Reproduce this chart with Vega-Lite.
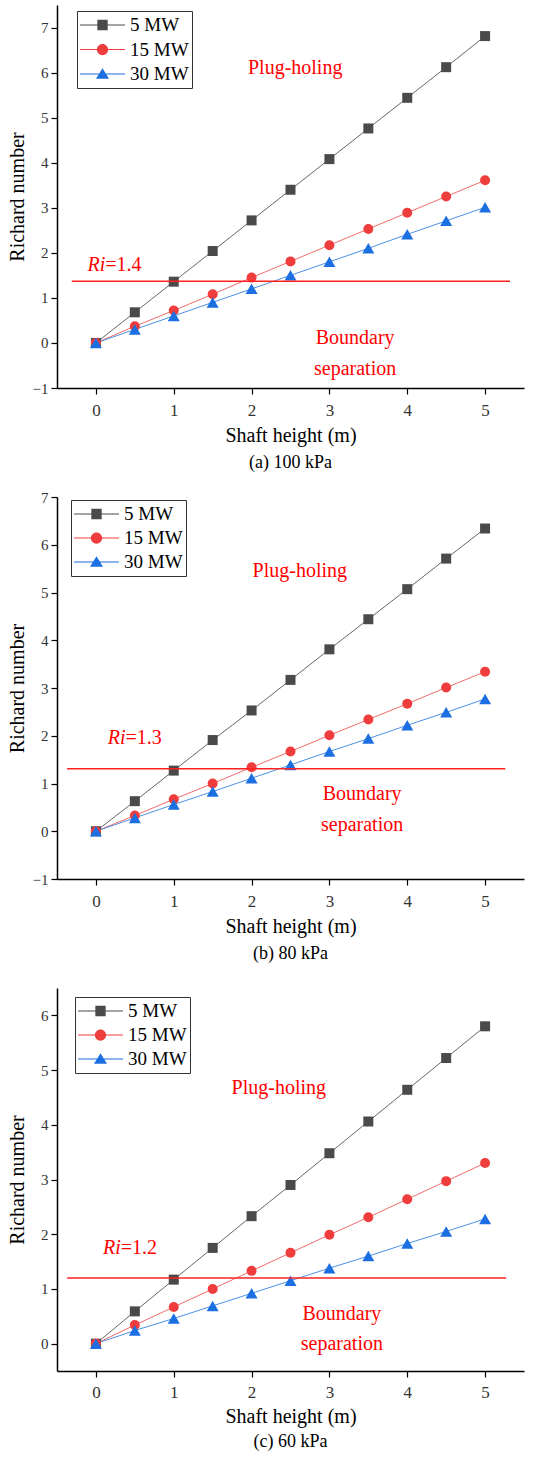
{
  "$schema": "https://vega.github.io/schema/vega-lite/v6.json",
  "padding": {"left": 7, "top": 5, "right": 2, "bottom": 0},
  "config": {
    "view": {"stroke": null},
    "font": "Liberation Serif",
    "text": {"font": "Liberation Serif"},
    "axis": {"grid": false, "labelFont": "Liberation Serif", "titleFont": "Liberation Serif"},
    "legend": {"labelFont": "Liberation Serif"}
  },
  "datasets": {
    "ri": [
      {"p": "a", "s": "5 MW", "h": 0, "ri": 0}, {"p": "a", "s": "5 MW", "h": 0.5, "ri": 0.68}, {"p": "a", "s": "5 MW", "h": 1, "ri": 1.36}, {"p": "a", "s": "5 MW", "h": 1.5, "ri": 2.04}, {"p": "a", "s": "5 MW", "h": 2, "ri": 2.72}, {"p": "a", "s": "5 MW", "h": 2.5, "ri": 3.4}, {"p": "a", "s": "5 MW", "h": 3, "ri": 4.08}, {"p": "a", "s": "5 MW", "h": 3.5, "ri": 4.76}, {"p": "a", "s": "5 MW", "h": 4, "ri": 5.44}, {"p": "a", "s": "5 MW", "h": 4.5, "ri": 6.12}, {"p": "a", "s": "5 MW", "h": 5, "ri": 6.81},
      {"p": "a", "s": "15 MW", "h": 0, "ri": 0}, {"p": "a", "s": "15 MW", "h": 0.5, "ri": 0.37}, {"p": "a", "s": "15 MW", "h": 1, "ri": 0.72}, {"p": "a", "s": "15 MW", "h": 1.5, "ri": 1.08}, {"p": "a", "s": "15 MW", "h": 2, "ri": 1.45}, {"p": "a", "s": "15 MW", "h": 2.5, "ri": 1.81}, {"p": "a", "s": "15 MW", "h": 3, "ri": 2.17}, {"p": "a", "s": "15 MW", "h": 3.5, "ri": 2.53}, {"p": "a", "s": "15 MW", "h": 4, "ri": 2.89}, {"p": "a", "s": "15 MW", "h": 4.5, "ri": 3.25}, {"p": "a", "s": "15 MW", "h": 5, "ri": 3.61},
      {"p": "a", "s": "30 MW", "h": 0, "ri": 0}, {"p": "a", "s": "30 MW", "h": 0.5, "ri": 0.3}, {"p": "a", "s": "30 MW", "h": 1, "ri": 0.6}, {"p": "a", "s": "30 MW", "h": 1.5, "ri": 0.9}, {"p": "a", "s": "30 MW", "h": 2, "ri": 1.2}, {"p": "a", "s": "30 MW", "h": 2.5, "ri": 1.5}, {"p": "a", "s": "30 MW", "h": 3, "ri": 1.8}, {"p": "a", "s": "30 MW", "h": 3.5, "ri": 2.1}, {"p": "a", "s": "30 MW", "h": 4, "ri": 2.41}, {"p": "a", "s": "30 MW", "h": 4.5, "ri": 2.71}, {"p": "a", "s": "30 MW", "h": 5, "ri": 3.01},
      {"p": "b", "s": "5 MW", "h": 0, "ri": 0}, {"p": "b", "s": "5 MW", "h": 0.5, "ri": 0.63}, {"p": "b", "s": "5 MW", "h": 1, "ri": 1.27}, {"p": "b", "s": "5 MW", "h": 1.5, "ri": 1.91}, {"p": "b", "s": "5 MW", "h": 2, "ri": 2.53}, {"p": "b", "s": "5 MW", "h": 2.5, "ri": 3.17}, {"p": "b", "s": "5 MW", "h": 3, "ri": 3.81}, {"p": "b", "s": "5 MW", "h": 3.5, "ri": 4.44}, {"p": "b", "s": "5 MW", "h": 4, "ri": 5.07}, {"p": "b", "s": "5 MW", "h": 4.5, "ri": 5.71}, {"p": "b", "s": "5 MW", "h": 5, "ri": 6.34},
      {"p": "b", "s": "15 MW", "h": 0, "ri": 0}, {"p": "b", "s": "15 MW", "h": 0.5, "ri": 0.33}, {"p": "b", "s": "15 MW", "h": 1, "ri": 0.67}, {"p": "b", "s": "15 MW", "h": 1.5, "ri": 1.0}, {"p": "b", "s": "15 MW", "h": 2, "ri": 1.34}, {"p": "b", "s": "15 MW", "h": 2.5, "ri": 1.67}, {"p": "b", "s": "15 MW", "h": 3, "ri": 2.01}, {"p": "b", "s": "15 MW", "h": 3.5, "ri": 2.34}, {"p": "b", "s": "15 MW", "h": 4, "ri": 2.67}, {"p": "b", "s": "15 MW", "h": 4.5, "ri": 3.01}, {"p": "b", "s": "15 MW", "h": 5, "ri": 3.34},
      {"p": "b", "s": "30 MW", "h": 0, "ri": 0}, {"p": "b", "s": "30 MW", "h": 0.5, "ri": 0.28}, {"p": "b", "s": "30 MW", "h": 1, "ri": 0.56}, {"p": "b", "s": "30 MW", "h": 1.5, "ri": 0.83}, {"p": "b", "s": "30 MW", "h": 2, "ri": 1.11}, {"p": "b", "s": "30 MW", "h": 2.5, "ri": 1.39}, {"p": "b", "s": "30 MW", "h": 3, "ri": 1.67}, {"p": "b", "s": "30 MW", "h": 3.5, "ri": 1.94}, {"p": "b", "s": "30 MW", "h": 4, "ri": 2.22}, {"p": "b", "s": "30 MW", "h": 4.5, "ri": 2.49}, {"p": "b", "s": "30 MW", "h": 5, "ri": 2.77},
      {"p": "c", "s": "5 MW", "h": 0, "ri": 0}, {"p": "c", "s": "5 MW", "h": 0.5, "ri": 0.59}, {"p": "c", "s": "5 MW", "h": 1, "ri": 1.17}, {"p": "c", "s": "5 MW", "h": 1.5, "ri": 1.75}, {"p": "c", "s": "5 MW", "h": 2, "ri": 2.33}, {"p": "c", "s": "5 MW", "h": 2.5, "ri": 2.9}, {"p": "c", "s": "5 MW", "h": 3, "ri": 3.48}, {"p": "c", "s": "5 MW", "h": 3.5, "ri": 4.06}, {"p": "c", "s": "5 MW", "h": 4, "ri": 4.64}, {"p": "c", "s": "5 MW", "h": 4.5, "ri": 5.22}, {"p": "c", "s": "5 MW", "h": 5, "ri": 5.8},
      {"p": "c", "s": "15 MW", "h": 0, "ri": 0}, {"p": "c", "s": "15 MW", "h": 0.5, "ri": 0.34}, {"p": "c", "s": "15 MW", "h": 1, "ri": 0.67}, {"p": "c", "s": "15 MW", "h": 1.5, "ri": 1.0}, {"p": "c", "s": "15 MW", "h": 2, "ri": 1.33}, {"p": "c", "s": "15 MW", "h": 2.5, "ri": 1.66}, {"p": "c", "s": "15 MW", "h": 3, "ri": 1.99}, {"p": "c", "s": "15 MW", "h": 3.5, "ri": 2.31}, {"p": "c", "s": "15 MW", "h": 4, "ri": 2.64}, {"p": "c", "s": "15 MW", "h": 4.5, "ri": 2.97}, {"p": "c", "s": "15 MW", "h": 5, "ri": 3.3},
      {"p": "c", "s": "30 MW", "h": 0, "ri": 0}, {"p": "c", "s": "30 MW", "h": 0.5, "ri": 0.24}, {"p": "c", "s": "30 MW", "h": 1, "ri": 0.46}, {"p": "c", "s": "30 MW", "h": 1.5, "ri": 0.69}, {"p": "c", "s": "30 MW", "h": 2, "ri": 0.92}, {"p": "c", "s": "30 MW", "h": 2.5, "ri": 1.15}, {"p": "c", "s": "30 MW", "h": 3, "ri": 1.38}, {"p": "c", "s": "30 MW", "h": 3.5, "ri": 1.6}, {"p": "c", "s": "30 MW", "h": 4, "ri": 1.83}, {"p": "c", "s": "30 MW", "h": 4.5, "ri": 2.05}, {"p": "c", "s": "30 MW", "h": 5, "ri": 2.28}
    ]
  },
  "bounds": "flush",
  "spacing": 109,
  "vconcat": [
    {
      "width": 467, "height": 383,
      "title": {"text": "(a) 100 kPa", "orient": "bottom", "fontSize": 18, "fontWeight": "normal", "font": "Liberation Serif", "color": "black", "offset": 9},
      "data": {"name": "ri"},
      "encoding": {
        "x": {"field": "h", "type": "quantitative", "scale": {"domain": [-0.5, 5.5], "nice": false, "zero": false},
          "axis": {"title": "Shaft height (m)", "values": [0, 0.5, 1, 1.5, 2, 2.5, 3, 3.5, 4, 4.5, 5, 5.5], "format": "d", "labelExpr": "datum.value % 1 === 0 ? datum.label : ''", "labelOverlap": false, "tickSize": {"condition": {"test": "datum.value % 1 === 0", "value": 6}, "value": 3}, "domainColor": "black", "domainWidth": 1.5, "tickColor": "black", "tickWidth": 1.2, "labelFont": "Liberation Serif", "labelFontSize": 17, "labelColor": "#333", "labelPadding": 8, "titleFont": "Liberation Serif", "titleFontSize": 20, "titleFontWeight": "normal", "titleColor": "black", "titlePadding": 7, "labelFlush": false}},
        "y": {"field": "ri", "type": "quantitative", "scale": {"domain": [-1, 7.5], "nice": false, "zero": false},
          "axis": {"title": "Richard number", "values": [-1, -0.5, 0, 0.5, 1, 1.5, 2, 2.5, 3, 3.5, 4, 4.5, 5, 5.5, 6, 6.5, 7, 7.5], "format": "d", "labelExpr": "datum.value % 1 === 0 ? datum.label : ''", "labelOverlap": false, "tickSize": {"condition": {"test": "datum.value % 1 === 0", "value": 6}, "value": 3}, "domainColor": "black", "domainWidth": 1.5, "tickColor": "black", "tickWidth": 1.2, "labelFont": "Liberation Serif", "labelFontSize": 15, "labelColor": "#333", "labelPadding": 3, "titleFont": "Liberation Serif", "titleFontSize": 20, "titleFontWeight": "normal", "titleColor": "black", "titlePadding": 2, "minExtent": 28, "maxExtent": 28, "labelFlush": false}}
      },
      "layer": [
        {"transform": [{"filter": "datum.p === 'a'"}],
         "mark": {"type": "line", "strokeWidth": 1},
         "encoding": {"color": {"field": "s", "type": "nominal", "scale": {"domain": ["5 MW", "15 MW", "30 MW"], "range": ["#666666", "#f26b6b", "#4d92e6"]}, "legend": null}}},
        {"transform": [{"filter": "datum.p === 'a'"}],
         "mark": {"type": "point", "filled": true, "opacity": 1, "size": 100},
         "encoding": {"color": {"field": "s", "type": "nominal", "scale": {"domain": ["5 MW", "15 MW", "30 MW"], "range": ["#4a4a4a", "#ef3d3d", "#1c6fe0"]}, "legend": null},
           "shape": {"field": "s", "type": "nominal", "scale": {"domain": ["5 MW", "15 MW", "30 MW"], "range": ["square", "circle", "M0,-1.05L1.2,1.05L-1.2,1.05Z"]}, "legend": null}}},
        {"transform": [{"filter": "datum.p === 'a'"}],
         "mark": {"type": "point", "filled": true, "opacity": 0, "size": 2025},
         "encoding": {"color": {"field": "s", "type": "nominal", "scale": {"domain": ["5 MW", "15 MW", "30 MW"], "range": ["#4a4a4a", "#ef3d3d", "#1c6fe0"]},
             "legend": {"title": null, "orient": "none", "legendX": 20, "legendY": 6, "fillColor": "white", "strokeColor": "#333", "padding": 3, "labelFontSize": 19, "labelColor": "black", "symbolSize": 2025, "symbolOpacity": 1, "symbolStrokeWidth": 0, "labelOffset": 5, "clipHeight": 22, "rowPadding": 2.5}},
           "shape": {"field": "s", "type": "nominal", "scale": {"domain": ["5 MW", "15 MW", "30 MW"], "range": ["M-1,-0.025H1V0.025H-1Z M-0.23,-0.23H0.23V0.23H-0.23Z", "M-1,-0.025H1V0.025H-1Z M-0.25,0A0.25,0.25 0 1,1 0.25,0A0.25,0.25 0 1,1 -0.25,0Z", "M-1,-0.025H1V0.025H-1Z M0,-0.26L0.29,0.21L-0.29,0.21Z"]},
             "legend": {"title": null, "orient": "none", "legendX": 20, "legendY": 6, "fillColor": "white", "strokeColor": "#333", "padding": 3, "labelFontSize": 19, "labelColor": "black", "symbolSize": 2025, "symbolOpacity": 1, "symbolStrokeWidth": 0, "labelOffset": 5, "clipHeight": 22, "rowPadding": 2.5}}}},
        {"transform": [{"filter": "datum.p === 'a' && datum.s === '5 MW' && datum.h === 0"}],
         "mark": {"type": "rule", "color": "#ff2020", "strokeWidth": 1.5},
         "encoding": {"x": {"datum": -0.31, "type": "quantitative"}, "x2": {"datum": 5.32}, "y": {"datum": 1.37, "type": "quantitative"}}},
        {"transform": [{"filter": "datum.p === 'a' && datum.s === '5 MW' && datum.h === 0"}],
         "mark": {"type": "text", "text": "Ri", "font": "Liberation Serif", "fontStyle": "italic", "align": "right", "baseline": "middle", "fontSize": 20, "fill": "#ff0000"},
         "encoding": {"x": {"datum": 0.12, "type": "quantitative"}, "y": {"datum": 1.72, "type": "quantitative"}}},
        {"transform": [{"filter": "datum.p === 'a' && datum.s === '5 MW' && datum.h === 0"}],
         "mark": {"type": "text", "text": "=1.4", "font": "Liberation Serif", "align": "left", "baseline": "middle", "fontSize": 20, "fill": "#ff0000"},
         "encoding": {"x": {"datum": 0.12, "type": "quantitative"}, "y": {"datum": 1.72, "type": "quantitative"}}},
        {"transform": [{"filter": "datum.p === 'a' && datum.s === '5 MW' && datum.h === 0"}],
         "mark": {"type": "text", "text": "Plug-holing", "font": "Liberation Serif", "baseline": "middle", "fontSize": 20, "fill": "#ff0000"},
         "encoding": {"x": {"datum": 2.56, "type": "quantitative"}, "y": {"datum": 6.11, "type": "quantitative"}}},
        {"transform": [{"filter": "datum.p === 'a' && datum.s === '5 MW' && datum.h === 0"}],
         "mark": {"type": "text", "text": "Boundary", "font": "Liberation Serif", "baseline": "middle", "fontSize": 20, "fill": "#ff0000"},
         "encoding": {"x": {"datum": 3.33, "type": "quantitative"}, "y": {"datum": 0.12, "type": "quantitative"}}},
        {"transform": [{"filter": "datum.p === 'a' && datum.s === '5 MW' && datum.h === 0"}],
         "mark": {"type": "text", "text": "separation", "font": "Liberation Serif", "baseline": "middle", "fontSize": 20, "fill": "#ff0000"},
         "encoding": {"x": {"datum": 3.33, "type": "quantitative"}, "y": {"datum": -0.57, "type": "quantitative"}}}
      ],
      "resolve": {"scale": {"color": "independent", "shape": "independent"}}
    },
    {
      "width": 467, "height": 382,
      "title": {"text": "(b) 80 kPa", "orient": "bottom", "fontSize": 18, "fontWeight": "normal", "font": "Liberation Serif", "color": "black", "offset": 9},
      "data": {"name": "ri"},
      "encoding": {
        "x": {"field": "h", "type": "quantitative", "scale": {"domain": [-0.5, 5.5], "nice": false, "zero": false},
          "axis": {"title": "Shaft height (m)", "values": [0, 0.5, 1, 1.5, 2, 2.5, 3, 3.5, 4, 4.5, 5, 5.5], "format": "d", "labelExpr": "datum.value % 1 === 0 ? datum.label : ''", "labelOverlap": false, "tickSize": {"condition": {"test": "datum.value % 1 === 0", "value": 6}, "value": 3}, "domainColor": "black", "domainWidth": 1.5, "tickColor": "black", "tickWidth": 1.2, "labelFont": "Liberation Serif", "labelFontSize": 17, "labelColor": "#333", "labelPadding": 8, "titleFont": "Liberation Serif", "titleFontSize": 20, "titleFontWeight": "normal", "titleColor": "black", "titlePadding": 7, "labelFlush": false}},
        "y": {"field": "ri", "type": "quantitative", "scale": {"domain": [-1, 7], "nice": false, "zero": false},
          "axis": {"title": "Richard number", "values": [-1, -0.5, 0, 0.5, 1, 1.5, 2, 2.5, 3, 3.5, 4, 4.5, 5, 5.5, 6, 6.5, 7], "format": "d", "labelExpr": "datum.value % 1 === 0 ? datum.label : ''", "labelOverlap": false, "tickSize": {"condition": {"test": "datum.value % 1 === 0", "value": 6}, "value": 3}, "domainColor": "black", "domainWidth": 1.5, "tickColor": "black", "tickWidth": 1.2, "labelFont": "Liberation Serif", "labelFontSize": 15, "labelColor": "#333", "labelPadding": 3, "titleFont": "Liberation Serif", "titleFontSize": 20, "titleFontWeight": "normal", "titleColor": "black", "titlePadding": 2, "minExtent": 28, "maxExtent": 28, "labelFlush": false}}
      },
      "layer": [
        {"transform": [{"filter": "datum.p === 'b'"}],
         "mark": {"type": "line", "strokeWidth": 1},
         "encoding": {"color": {"field": "s", "type": "nominal", "scale": {"domain": ["5 MW", "15 MW", "30 MW"], "range": ["#666666", "#f26b6b", "#4d92e6"]}, "legend": null}}},
        {"transform": [{"filter": "datum.p === 'b'"}],
         "mark": {"type": "point", "filled": true, "opacity": 1, "size": 100},
         "encoding": {"color": {"field": "s", "type": "nominal", "scale": {"domain": ["5 MW", "15 MW", "30 MW"], "range": ["#4a4a4a", "#ef3d3d", "#1c6fe0"]}, "legend": null},
           "shape": {"field": "s", "type": "nominal", "scale": {"domain": ["5 MW", "15 MW", "30 MW"], "range": ["square", "circle", "M0,-1.05L1.2,1.05L-1.2,1.05Z"]}, "legend": null}}},
        {"transform": [{"filter": "datum.p === 'b'"}],
         "mark": {"type": "point", "filled": true, "opacity": 0, "size": 2025},
         "encoding": {"color": {"field": "s", "type": "nominal", "scale": {"domain": ["5 MW", "15 MW", "30 MW"], "range": ["#4a4a4a", "#ef3d3d", "#1c6fe0"]},
             "legend": {"title": null, "orient": "none", "legendX": 14, "legendY": 3, "fillColor": "white", "strokeColor": "#333", "padding": 3, "labelFontSize": 19, "labelColor": "black", "symbolSize": 2025, "symbolOpacity": 1, "symbolStrokeWidth": 0, "labelOffset": 5, "clipHeight": 22, "rowPadding": 2}},
           "shape": {"field": "s", "type": "nominal", "scale": {"domain": ["5 MW", "15 MW", "30 MW"], "range": ["M-1,-0.025H1V0.025H-1Z M-0.23,-0.23H0.23V0.23H-0.23Z", "M-1,-0.025H1V0.025H-1Z M-0.25,0A0.25,0.25 0 1,1 0.25,0A0.25,0.25 0 1,1 -0.25,0Z", "M-1,-0.025H1V0.025H-1Z M0,-0.26L0.29,0.21L-0.29,0.21Z"]},
             "legend": {"title": null, "orient": "none", "legendX": 14, "legendY": 3, "fillColor": "white", "strokeColor": "#333", "padding": 3, "labelFontSize": 19, "labelColor": "black", "symbolSize": 2025, "symbolOpacity": 1, "symbolStrokeWidth": 0, "labelOffset": 5, "clipHeight": 22, "rowPadding": 2}}}},
        {"transform": [{"filter": "datum.p === 'b' && datum.s === '5 MW' && datum.h === 0"}],
         "mark": {"type": "rule", "color": "#ff2020", "strokeWidth": 1.5},
         "encoding": {"x": {"datum": -0.37, "type": "quantitative"}, "x2": {"datum": 5.26}, "y": {"datum": 1.31, "type": "quantitative"}}},
        {"transform": [{"filter": "datum.p === 'b' && datum.s === '5 MW' && datum.h === 0"}],
         "mark": {"type": "text", "text": "Ri", "font": "Liberation Serif", "fontStyle": "italic", "align": "right", "baseline": "middle", "fontSize": 20, "fill": "#ff0000"},
         "encoding": {"x": {"datum": 0.38, "type": "quantitative"}, "y": {"datum": 1.96, "type": "quantitative"}}},
        {"transform": [{"filter": "datum.p === 'b' && datum.s === '5 MW' && datum.h === 0"}],
         "mark": {"type": "text", "text": "=1.3", "font": "Liberation Serif", "align": "left", "baseline": "middle", "fontSize": 20, "fill": "#ff0000"},
         "encoding": {"x": {"datum": 0.38, "type": "quantitative"}, "y": {"datum": 1.96, "type": "quantitative"}}},
        {"transform": [{"filter": "datum.p === 'b' && datum.s === '5 MW' && datum.h === 0"}],
         "mark": {"type": "text", "text": "Plug-holing", "font": "Liberation Serif", "baseline": "middle", "fontSize": 20, "fill": "#ff0000"},
         "encoding": {"x": {"datum": 2.62, "type": "quantitative"}, "y": {"datum": 5.45, "type": "quantitative"}}},
        {"transform": [{"filter": "datum.p === 'b' && datum.s === '5 MW' && datum.h === 0"}],
         "mark": {"type": "text", "text": "Boundary", "font": "Liberation Serif", "baseline": "middle", "fontSize": 20, "fill": "#ff0000"},
         "encoding": {"x": {"datum": 3.42, "type": "quantitative"}, "y": {"datum": 0.77, "type": "quantitative"}}},
        {"transform": [{"filter": "datum.p === 'b' && datum.s === '5 MW' && datum.h === 0"}],
         "mark": {"type": "text", "text": "separation", "font": "Liberation Serif", "baseline": "middle", "fontSize": 20, "fill": "#ff0000"},
         "encoding": {"x": {"datum": 3.42, "type": "quantitative"}, "y": {"datum": 0.14, "type": "quantitative"}}}
      ],
      "resolve": {"scale": {"color": "independent", "shape": "independent"}}
    },
    {
      "width": 467, "height": 383,
      "title": {"text": "(c) 60 kPa", "orient": "bottom", "fontSize": 18, "fontWeight": "normal", "font": "Liberation Serif", "color": "black", "offset": 7},
      "data": {"name": "ri"},
      "encoding": {
        "x": {"field": "h", "type": "quantitative", "scale": {"domain": [-0.5, 5.5], "nice": false, "zero": false},
          "axis": {"title": "Shaft height (m)", "values": [0, 0.5, 1, 1.5, 2, 2.5, 3, 3.5, 4, 4.5, 5, 5.5], "format": "d", "labelExpr": "datum.value % 1 === 0 ? datum.label : ''", "labelOverlap": false, "tickSize": {"condition": {"test": "datum.value % 1 === 0", "value": 6}, "value": 3}, "domainColor": "black", "domainWidth": 1.5, "tickColor": "black", "tickWidth": 1.2, "labelFont": "Liberation Serif", "labelFontSize": 17, "labelColor": "#333", "labelPadding": 7, "titleFont": "Liberation Serif", "titleFontSize": 20, "titleFontWeight": "normal", "titleColor": "black", "titlePadding": 6, "labelFlush": false}},
        "y": {"field": "ri", "type": "quantitative", "scale": {"domain": [-0.5, 6.5], "nice": false, "zero": false},
          "axis": {"title": "Richard number", "values": [0, 0.5, 1, 1.5, 2, 2.5, 3, 3.5, 4, 4.5, 5, 5.5, 6, 6.5], "format": "d", "labelExpr": "datum.value % 1 === 0 ? datum.label : ''", "labelOverlap": false, "tickSize": {"condition": {"test": "datum.value % 1 === 0", "value": 6}, "value": 3}, "domainColor": "black", "domainWidth": 1.5, "tickColor": "black", "tickWidth": 1.2, "labelFont": "Liberation Serif", "labelFontSize": 15, "labelColor": "#333", "labelPadding": 3, "titleFont": "Liberation Serif", "titleFontSize": 20, "titleFontWeight": "normal", "titleColor": "black", "titlePadding": 2, "minExtent": 28, "maxExtent": 28, "labelFlush": false}}
      },
      "layer": [
        {"transform": [{"filter": "datum.p === 'c'"}],
         "mark": {"type": "line", "strokeWidth": 1},
         "encoding": {"color": {"field": "s", "type": "nominal", "scale": {"domain": ["5 MW", "15 MW", "30 MW"], "range": ["#666666", "#f26b6b", "#4d92e6"]}, "legend": null}}},
        {"transform": [{"filter": "datum.p === 'c'"}],
         "mark": {"type": "point", "filled": true, "opacity": 1, "size": 100},
         "encoding": {"color": {"field": "s", "type": "nominal", "scale": {"domain": ["5 MW", "15 MW", "30 MW"], "range": ["#4a4a4a", "#ef3d3d", "#1c6fe0"]}, "legend": null},
           "shape": {"field": "s", "type": "nominal", "scale": {"domain": ["5 MW", "15 MW", "30 MW"], "range": ["square", "circle", "M0,-1.05L1.2,1.05L-1.2,1.05Z"]}, "legend": null}}},
        {"transform": [{"filter": "datum.p === 'c'"}],
         "mark": {"type": "point", "filled": true, "opacity": 0, "size": 2025},
         "encoding": {"color": {"field": "s", "type": "nominal", "scale": {"domain": ["5 MW", "15 MW", "30 MW"], "range": ["#4a4a4a", "#ef3d3d", "#1c6fe0"]},
             "legend": {"title": null, "orient": "none", "legendX": 18, "legendY": 9, "fillColor": "white", "strokeColor": "#333", "padding": 3, "labelFontSize": 19, "labelColor": "black", "symbolSize": 2025, "symbolOpacity": 1, "symbolStrokeWidth": 0, "labelOffset": 5, "clipHeight": 22, "rowPadding": 2}},
           "shape": {"field": "s", "type": "nominal", "scale": {"domain": ["5 MW", "15 MW", "30 MW"], "range": ["M-1,-0.025H1V0.025H-1Z M-0.23,-0.23H0.23V0.23H-0.23Z", "M-1,-0.025H1V0.025H-1Z M-0.25,0A0.25,0.25 0 1,1 0.25,0A0.25,0.25 0 1,1 -0.25,0Z", "M-1,-0.025H1V0.025H-1Z M0,-0.26L0.29,0.21L-0.29,0.21Z"]},
             "legend": {"title": null, "orient": "none", "legendX": 18, "legendY": 9, "fillColor": "white", "strokeColor": "#333", "padding": 3, "labelFontSize": 19, "labelColor": "black", "symbolSize": 2025, "symbolOpacity": 1, "symbolStrokeWidth": 0, "labelOffset": 5, "clipHeight": 22, "rowPadding": 2}}}},
        {"transform": [{"filter": "datum.p === 'c' && datum.s === '5 MW' && datum.h === 0"}],
         "mark": {"type": "rule", "color": "#ff2020", "strokeWidth": 1.5},
         "encoding": {"x": {"datum": -0.37, "type": "quantitative"}, "x2": {"datum": 5.27}, "y": {"datum": 1.2, "type": "quantitative"}}},
        {"transform": [{"filter": "datum.p === 'c' && datum.s === '5 MW' && datum.h === 0"}],
         "mark": {"type": "text", "text": "Ri", "font": "Liberation Serif", "fontStyle": "italic", "align": "right", "baseline": "middle", "fontSize": 20, "fill": "#ff0000"},
         "encoding": {"x": {"datum": 0.32, "type": "quantitative"}, "y": {"datum": 1.75, "type": "quantitative"}}},
        {"transform": [{"filter": "datum.p === 'c' && datum.s === '5 MW' && datum.h === 0"}],
         "mark": {"type": "text", "text": "=1.2", "font": "Liberation Serif", "align": "left", "baseline": "middle", "fontSize": 20, "fill": "#ff0000"},
         "encoding": {"x": {"datum": 0.32, "type": "quantitative"}, "y": {"datum": 1.75, "type": "quantitative"}}},
        {"transform": [{"filter": "datum.p === 'c' && datum.s === '5 MW' && datum.h === 0"}],
         "mark": {"type": "text", "text": "Plug-holing", "font": "Liberation Serif", "baseline": "middle", "fontSize": 20, "fill": "#ff0000"},
         "encoding": {"x": {"datum": 2.35, "type": "quantitative"}, "y": {"datum": 4.67, "type": "quantitative"}}},
        {"transform": [{"filter": "datum.p === 'c' && datum.s === '5 MW' && datum.h === 0"}],
         "mark": {"type": "text", "text": "Boundary", "font": "Liberation Serif", "baseline": "middle", "fontSize": 20, "fill": "#ff0000"},
         "encoding": {"x": {"datum": 3.16, "type": "quantitative"}, "y": {"datum": 0.55, "type": "quantitative"}}},
        {"transform": [{"filter": "datum.p === 'c' && datum.s === '5 MW' && datum.h === 0"}],
         "mark": {"type": "text", "text": "separation", "font": "Liberation Serif", "baseline": "middle", "fontSize": 20, "fill": "#ff0000"},
         "encoding": {"x": {"datum": 3.16, "type": "quantitative"}, "y": {"datum": 0.0, "type": "quantitative"}}}
      ],
      "resolve": {"scale": {"color": "independent", "shape": "independent"}}
    }
  ]
}
